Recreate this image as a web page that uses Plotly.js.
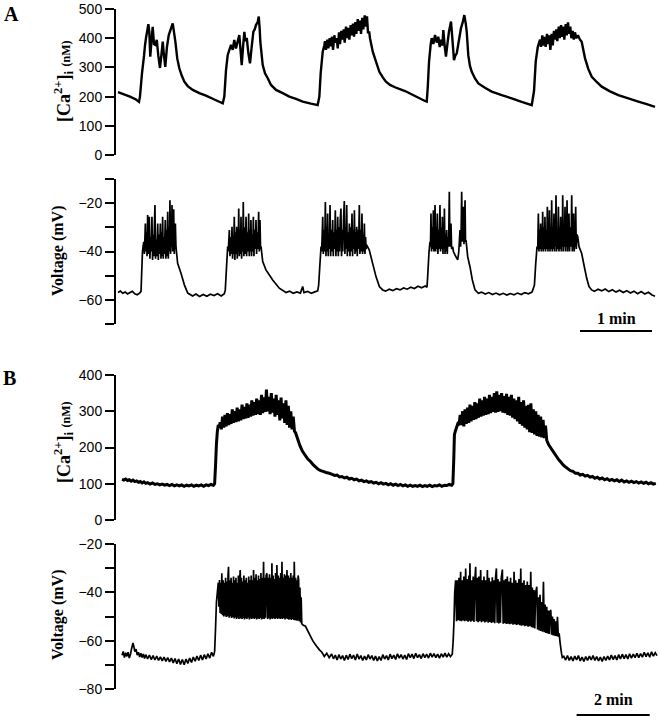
<!DOCTYPE html>
<html>
<head>
<meta charset="utf-8">
<script src="https://cdn.plot.ly/plotly-3.0.1.min.js"></script>
<style>
  html, body { margin: 0; padding: 0; background: #fff; }
  #chart { width: 660px; height: 720px; }
</style>
</head>
<body>
<div id="chart"></div>
<script>
// [time (s), value] samples

// panel A, [Ca2+]i (nM)
const caA = [
  [0,215],[5,208],[10,200],[15,190],[17.5,182],[18.3,200],[20,280],[21.7,340],[22.5,375],[23.3,400],
  [25.3,448],[26.1,420],[26.9,337],[28.1,400],[28.9,439],[30,380],[31.1,377],[32.3,394],[33.6,340],
  [35,298],[36.1,340],[37.3,388],[38.3,340],[39.4,302],[40.8,370],[42.3,411],[43.9,430],[45.6,451],
  [46.7,420],[47.8,388],[49.4,330],[51.1,297],[53.1,272],[55.3,251],[58.1,236],[62.3,223],[67.8,212],
  [73.3,203],[80.3,190],[87.3,177],[88.6,200],[90,290],[91.4,342],[92.8,360],[94.2,377],[95.6,360],
  [96.9,394],[98.3,365],[99.8,390],[101.1,411],[102.3,350],[103.1,308],[104.2,370],[105.3,422],
  [106.1,390],[107.3,401],[108.6,350],[110,314],[111.4,370],[112.8,422],[113.9,430],[115,445],
  [116.4,455],[117.3,474],[118.1,430],[118.6,388],[120.6,308],[122.5,280],[124.8,263],[127.5,240],
  [131.7,223],[137.3,212],[142.8,200],[148.3,192],[153.9,183],[160.8,176],[166.4,171],[167.8,200],
  [168.9,280],[170.6,354],[171.9,375],[172.5,390],[173.3,360],[174.4,395],[175.3,365],[176.4,400],
  [177.3,372],[178.3,405],[179.2,360],[180.3,410],[181.1,385],[182.3,400],[183.1,365],[184.2,420],
  [185,380],[186.1,425],[186.9,395],[188.1,430],[188.9,385],[190,440],[190.8,400],[191.9,435],
  [192.8,395],[193.9,445],[194.8,410],[195.8,450],[196.7,405],[197.8,455],[198.6,415],[199.8,465],
  [200.6,425],[201.7,460],[202.5,415],[203.6,470],[204.4,430],[205.6,478],[206.4,440],[207.5,475],
  [208.3,420],[209.4,420],[210,400],[212.3,354],[215,320],[217.8,285],[220.8,265],[223.3,251],
  [226.7,240],[230.8,232],[239.2,219],[247.5,202],[255.8,185],[257.3,183],[258.1,230],[259.2,320],
  [260.6,380],[261.4,400],[262.8,380],[264.2,411],[265.6,385],[266.9,405],[268.1,370],[269.2,395],
  [270.3,375],[271.1,428],[272.3,370],[273.3,337],[274.8,390],[275.8,422],[277.5,457],[278.6,400],
  [280,325],[281.1,340],[282.3,348],[283.6,380],[285.8,434],[287.3,455],[288.6,479],[289.8,450],
  [290.6,422],[291.9,342],[293.3,305],[294.8,285],[297.5,262],[300.3,245],[305.8,230],[311.4,217],
  [319.8,205],[328.1,194],[336.4,182],[344.8,171],[346.7,220],[348.1,320],[349.8,370],[351.7,395],
  [352.5,370],[353.6,410],[354.4,375],[355.6,405],[356.4,370],[357.5,415],[358.3,380],[359.4,410],
  [360.3,360],[361.4,415],[362.3,375],[363.3,425],[364.2,395],[365.3,430],[366.1,390],[367.3,440],
  [368.1,400],[369.2,445],[370,405],[371.1,440],[371.9,395],[373.1,448],[373.9,410],[375,454],
  [375.8,415],[376.9,440],[377.8,400],[378.9,425],[379.8,395],[380.8,420],[381.9,400],[383.3,410],
  [385,395],[386.4,388],[389.2,331],[391.9,295],[394.8,268],[398.9,250],[403.1,234],[410,218],
  [416.9,205],[425.3,194],[433.6,183],[440.6,174],[447.5,165]
];

// panel A, membrane voltage (mV)
const vA = [
  [0,-57],[2,-56.4],[4,-57.3],[6,-56.8],[8,-57.6],[10,-57],[12,-56.5],[14,-57.5],[16,-57.9],[18,-57.2],
  [19.2,-56.5],[19.8,-48],[20.4,-40],[21,-37.5],[21.5,-36],[22,-41],[22.8,-28.4],[23.3,-40],[23.8,-32],
  [24.2,-42],[24.7,-24.9],[25.2,-41],[25.7,-30],[26.1,-25.6],[26.6,-43],[27.1,-34],[27.6,-40],
  [28.3,-25.6],[28.8,-43.5],[29.3,-33],[29.8,-42],[30.3,-30],[30.8,-20.8],[31.3,-43],[31.8,-35],
  [32.3,-42],[33.1,-28.4],[33.6,-43.5],[34.1,-33],[34.6,-41],[35.3,-28.4],[35.8,-43],[36.3,-32],
  [36.7,-42],[37.2,-25.6],[37.7,-43],[38.2,-34],[38.7,-41],[39.4,-27],[39.9,-43],[40.4,-31],[40.9,-42],
  [41.4,-23.6],[41.9,-43],[42.4,-30],[42.8,-40],[43.3,-18.8],[43.8,-41],[44.3,-28],[44.6,-38],[45,-20.8],
  [45.5,-40],[45.9,-30],[46.4,-22.5],[46.9,-41],[47.3,-32],[47.8,-28.4],[48.3,-38],[49.7,-44.9],
  [52.5,-49],[55.3,-53.8],[58.1,-57.2],[62.2,-58.4],[65,-57.6],[68,-58.6],[71,-57.8],[74,-58.5],
  [77,-57.7],[80,-58.2],[83,-57.5],[86,-58.4],[88.6,-57.5],[89.4,-56],[90.6,-45],[91.4,-38],[91.9,-40],
  [92.3,-36],[92.8,-31.1],[93.3,-42],[93.8,-34],[94.4,-41],[95,-29.8],[95.5,-43],[96,-33],[96.4,-41],
  [96.9,-25.6],[97.4,-43.5],[97.9,-32],[98.4,-41],[98.9,-29.8],[99.4,-43],[99.9,-34],[100.2,-40],
  [100.6,-22.2],[101.1,-42],[101.6,-31],[102,-41],[102.5,-25.6],[103,-43],[103.5,-33],[103.9,-40],
  [104.4,-19.5],[104.9,-42],[105.4,-30],[106,-41],[106.7,-25.6],[107.2,-42],[107.7,-32],[108.3,-40],
  [108.9,-24.3],[109.4,-42],[109.9,-31],[110.3,-40],[110.8,-27],[111.3,-42],[111.8,-33],[112.3,-40],
  [112.8,-25.6],[113.3,-42],[113.8,-31],[114.4,-39],[115,-27],[115.5,-41],[116,-32],[116.6,-39],
  [117.2,-23.6],[117.7,-40],[118.3,-27],[118.8,-39],[119.2,-38],[120.6,-44.2],[123.3,-47.6],
  [128.9,-51.8],[134.4,-55.2],[140,-57],[143,-56.4],[146,-57.3],[149,-56.7],[152,-57.2],[153.9,-54.5],
  [155,-57],[158,-56.5],[161,-57.3],[164,-56.7],[166.4,-56.3],[167.2,-54],[168.3,-45],[169.2,-38],
  [169.7,-40],[170.1,-34],[170.6,-25.6],[171.1,-41],[171.6,-31],[172.2,-40],[172.8,-19.5],[173.3,-42],
  [173.8,-30],[174.2,-40],[174.7,-24.3],[175.2,-42],[175.7,-33],[176.2,-39],[176.7,-20.8],[177.2,-42],
  [177.8,-31],[178.3,-40],[178.9,-27],[179.4,-42],[179.9,-32],[180.5,-39],[181.1,-22.9],[181.6,-42],
  [182.1,-31],[182.6,-40],[183.1,-25.6],[183.6,-42],[184.1,-30],[184.6,-40],[185.2,-27],[185.8,-22.2],
  [186.3,-42],[186.8,-31],[187.3,-40],[188,-26],[188.6,-19.1],[189.1,-41],[189.6,-30],[190.1,-39],
  [190.6,-20.8],[191.1,-42],[191.6,-32],[192.2,-40],[192.8,-28.4],[193.3,-42],[193.8,-30],[194.4,-40],
  [195,-24.3],[195.5,-42],[196,-31],[196.5,-39],[197,-22.9],[197.5,-41],[198,-32],[198.4,-40],
  [198.9,-29.8],[199.4,-42],[199.9,-31],[200.5,-39],[201.1,-20.8],[201.6,-41],[202.1,-31],[202.7,-40],
  [203.3,-24.3],[203.8,-41],[204.3,-33],[204.8,-40],[205.3,-28.4],[205.8,-41],[206.3,-34],[206.8,-39],
  [207.2,-37.3],[209.4,-39.4],[212.2,-44.9],[215,-50.4],[217.8,-54.5],[220.6,-55.9],[223,-56.4],
  [226,-55.6],[229,-56.2],[232,-55.4],[235,-55.9],[238,-55.1],[241,-55.6],[244,-54.8],[247,-55.3],
  [250,-54.4],[253,-55],[256,-54.3],[257.5,-54.8],[258.1,-50],[259.2,-40],[260,-36],[260.4,-38],
  [260.8,-24.3],[261.3,-40],[261.8,-30],[262.3,-39],[262.8,-22.9],[263.3,-40],[263.7,-31],[264.2,-20.8],
  [264.7,-40],[265.2,-30],[265.6,-39],[266.1,-24.3],[266.6,-41],[267.1,-31],[267.7,-39],[268.3,-20.8],
  [268.8,-40],[269.3,-30],[269.8,-39],[270.3,-25.6],[270.8,-41],[271.3,-31],[271.6,-39],[272,-22.2],
  [272.5,-41],[273,-33],[273.4,-40],[273.9,-31.1],[274.4,-41],[274.9,-34],[275.5,-38],[276.1,-15.3],
  [276.6,-38],[277,-34],[277.5,-28.4],[278,-39],[278.9,-38],[279.5,-40],[280.8,-41.4],[282,-42.5],
  [283.1,-43.5],[284,-40],[285,-31.1],[285.5,-38],[286,-30],[286.4,-15.3],[286.9,-36],[287.3,-30],
  [287.8,-21.5],[288.3,-37],[288.8,-30],[289.2,-18.8],[289.6,-36],[290,-35.3],[291.4,-42.1],
  [293.3,-46.3],[295.3,-51.8],[297.5,-55.9],[300.3,-57.3],[303,-56.8],[306,-57.6],[309,-57],[312,-57.8],
  [315,-57.2],[318,-57.9],[321,-57.3],[324,-58],[327,-57.4],[330,-57.9],[333,-57.2],[336,-57.8],
  [339,-57],[342,-57.5],[345,-56.8],[347,-54],[348.1,-45],[349.2,-38],[349.8,-39],[350.3,-24.3],
  [350.8,-40],[351.3,-31],[351.7,-39],[352.2,-28.4],[352.7,-40],[353.2,-32],[353.5,-39],[353.9,-23.6],
  [354.4,-40],[354.9,-30],[355.4,-39],[355.8,-25.6],[356.3,-40],[356.8,-31],[357.3,-39],[357.8,-21.5],
  [358.3,-40],[358.7,-30],[359.1,-39],[359.5,-22.9],[360,-40],[360.5,-30],[361,-39],[361.4,-18.8],
  [361.9,-40],[362.4,-31],[362.8,-39],[363.3,-24.3],[363.8,-40],[364.2,-30],[364.6,-38],[365,-16.7],
  [365.5,-40],[366,-31],[366.5,-39],[367,-21.5],[367.5,-40],[368,-30],[368.4,-39],[368.9,-25.6],
  [369.4,-40],[369.8,-30],[370.2,-38],[370.6,-16.7],[371.1,-40],[371.6,-30],[372,-38],[372.5,-21.5],
  [373,-40],[373.4,-30],[373.8,-38],[374.2,-18.8],[374.7,-40],[375.1,-31],[375.4,-38],[375.8,-24.3],
  [376.3,-40],[376.9,-30],[377.5,-38],[378.1,-16.7],[378.6,-40],[379.1,-31],[379.4,-38],[379.7,-24.3],
  [380.2,-40],[380.7,-30],[381,-38],[381.4,-21.5],[381.9,-39],[382.5,-33],[383.1,-33.9],[384.2,-38],
  [386.4,-40.8],[388.6,-46.3],[390.6,-51.1],[392.5,-54.5],[394.7,-55.9],[397,-56.5],[400,-55.6],
  [403,-56.3],[406,-55.5],[409,-56.6],[412,-55.8],[415,-56.8],[418,-56],[421,-57],[424,-56.2],
  [427,-57.2],[430,-56.4],[433,-57.5],[436,-56.6],[439,-57.6],[442,-56.9],[445,-58],[447.5,-58.5]
];

// panel B, [Ca2+]i (nM)
const caB = [
  [0,112],[3,110],[6,113],[9,109],[12,111],[15,107],[18,110],[21,106],[24,108],[27,104],[30,106],
  [33,102],[36,105],[39,101],[42,103],[46,99],[50,102],[54,98],[58,100],[62,97],[66,99],[70,96],
  [74,98],[78,95],[82,98],[86,94],[90,97],[94,94],[98,97],[102,93],[106,96],[110,94],[114,97],
  [118,93],[122,96],[126,94],[130,97],[134,93],[138,97],[142,95],[146,98],[150,96],[152,100],
  [153.5,150],[155,210],[156.5,245],[158,262],[160,255],[161,270],[163,250],[165,285],[167,255],
  [169,290],[171,258],[173,295],[175,262],[177,292],[179,265],[181,305],[183,268],[185,300],[187,270],
  [189,310],[191,272],[193,305],[195,275],[197,318],[199,278],[201,312],[203,280],[205,322],[207,282],
  [209,318],[211,285],[213,330],[215,288],[217,325],[219,290],[221,335],[223,292],[225,330],[227,290],
  [229,345],[231,295],[233,338],[235,298],[237,360],[239,300],[241,340],[243,292],[245,350],[247,296],
  [249,335],[251,285],[253,345],[255,290],[257,330],[259,275],[261,338],[263,280],[265,322],[267,268],
  [269,330],[271,262],[273,315],[275,255],[277,300],[279,250],[281,285],[283,245],[285,240],[288,225],
  [292,205],[296,190],[300,180],[305,168],[309,162],[314,152],[318,146],[322,140],[326,136],[330,134],
  [335,131],[340,129],[345,126],[349,123],[353,124],[357,119],[361,120],[365,116],[369,118],[373,113],
  [377,115],[381,111],[385,113],[389,108],[393,110],[397,106],[401,108],[405,104],[409,106],[413,102],
  [417,104],[421,100],[425,103],[429,99],[433,101],[437,97],[441,100],[445,96],[449,99],[453,95],
  [457,98],[461,94],[465,97],[469,93],[473,96],[477,93],[481,95],[485,93],[489,96],[493,92],[497,95],
  [501,93],[505,96],[509,92],[513,95],[517,94],[521,97],[525,93],[529,96],[533,95],[537,98],[541,96],
  [543,100],[544.5,170],[545.5,235],[547,245],[549,255],[551,265],[553,262],[555,290],[557,262],
  [559,300],[561,258],[563,305],[565,265],[567,310],[569,268],[571,318],[573,272],[575,315],[577,276],
  [579,325],[581,278],[583,322],[585,282],[587,335],[589,285],[591,330],[593,288],[595,340],[597,290],
  [599,335],[601,292],[603,345],[605,295],[607,340],[609,298],[611,350],[613,296],[615,355],[617,298],
  [619,345],[621,300],[623,350],[625,296],[627,342],[629,295],[631,348],[633,290],[635,340],[637,288],
  [639,345],[641,282],[643,335],[645,278],[647,330],[649,272],[651,340],[653,265],[655,325],[657,260],
  [659,330],[661,255],[663,315],[665,250],[667,318],[669,242],[671,322],[673,240],[675,305],[677,236],
  [679,300],[681,232],[683,290],[685,230],[687,285],[689,228],[691,276],[693,226],[695,260],[697,220],
  [700,208],[704,198],[708,188],[712,178],[716,168],[720,160],[724,152],[728,146],[732,141],[736,136],
  [740,134],[744,129],[748,129],[752,124],[756,126],[760,121],[764,123],[768,118],[772,120],[776,115],
  [780,118],[784,113],[788,116],[792,111],[796,114],[800,109],[804,112],[808,108],[812,111],[816,106],
  [820,110],[824,105],[828,108],[832,104],[836,107],[840,103],[844,106],[848,102],[852,105],[856,101],
  [860,104],[864,100],[868,103],[872,99],[876,101]
];

// panel B, membrane voltage (mV)
const vB = [
  [0,-66],[2,-64.5],[4,-67],[6,-65],[8,-66.5],[10,-64.8],[12,-67.2],[14,-65.5],[16,-63],[18,-61],
  [19.5,-62.5],[21,-64.5],[23,-63.5],[25,-66],[27,-64.8],[29,-66.8],[31,-65.2],[33,-67],[35,-65.5],
  [37,-67.4],[39,-65.8],[42,-67.5],[45,-66],[48,-67.8],[51,-66.2],[54,-68],[57,-66.4],[60,-68.2],
  [63,-66.7],[66,-68.4],[69,-66.8],[72,-68.6],[75,-67],[78,-68.8],[81,-67.2],[84,-69.2],[87,-67.4],
  [90,-69.5],[93,-67.6],[96,-69.8],[99,-67.8],[102,-70],[105,-67.6],[108,-69.4],[111,-67.2],[114,-69],
  [117,-66.8],[120,-68.5],[123,-66.4],[126,-68.2],[129,-66],[132,-68],[135,-65.8],[138,-67.6],
  [141,-65.4],[144,-67.2],[147,-64.8],[150,-66.5],[152,-64.5],[153.5,-55],[155,-44],[156.5,-40],
  [158,-36],[159,-46],[160,-34.9],[161,-48.5],[162,-36],[163,-49],[163.8,-32.1],[165,-49.5],[166,-35],
  [167,-50],[168,-36],[169,-49.6],[170,-34],[171,-50.2],[172,-35.5],[173,-50],[174,-33],[174.8,-29.4],
  [176,-50.5],[177,-35],[178,-50],[179,-34],[180,-50.6],[181,-36],[182,-50.2],[183,-33.5],[184,-50.8],
  [185,-35],[186,-50.4],[187,-34],[188,-51],[189,-36],[190,-50.5],[191,-33],[192,-51],[193,-35],
  [194,-30.8],[195,-50.8],[196,-34],[197,-51],[198,-35.5],[199,-50.6],[200,-33],[201,-51.2],[202,-35],
  [203,-50.7],[204,-34],[205,-51],[206,-36],[207,-50.5],[208,-33.5],[209,-51.2],[210,-35],[211,-50.8],
  [212,-33],[213,-51],[214,-35],[215,-50.6],[215.9,-30.8],[217,-51],[218,-34],[219,-50.7],[220,-32.5],
  [221,-51.2],[222,-35],[223,-50.8],[224,-33],[225,-51],[226,-34.5],[227,-50.6],[228,-32],[229,-51.2],
  [230,-34],[231,-50.9],[232.3,-27.3],[233.5,-51],[234.5,-34],[235.5,-50.5],[236.5,-33],[237.8,-32.1],
  [239,-51],[240,-34],[241,-50.6],[242,-32.5],[243,-51.2],[244,-34],[245,-50.8],[246,-28],[247,-51],
  [248,-33],[249,-50.6],[250,-34.5],[251,-51],[252,-32],[253,-50.7],[254.2,-28.7],[255.5,-51],
  [256.5,-33],[257.5,-50.6],[258.5,-34],[259.5,-51],[260.5,-32],[261.5,-50.8],[262.5,-27.3],
  [263.5,-51],[264.5,-34],[265.5,-50.6],[266.5,-32.5],[267.5,-51.2],[268.5,-33],[269.5,-50.8],
  [270.7,-30.8],[272,-51],[273,-33],[274,-51.3],[275,-34],[276,-51],[277,-32],[278,-51.4],[279,-34],
  [280,-51],[281,-33],[282,-51.4],[282.7,-27.3],[284,-51.5],[285,-34],[286,-51.6],[287,-35],
  [288,-51.8],[289,-33],[289.9,-34.9],[291,-52],[292,-38],[293,-52.5],[294,-42],[295,-53],[297,-53.5],
  [301,-54],[305,-56],[309,-58],[313,-60],[317,-61.5],[320,-62.5],[324,-63.8],[328,-64.8],[332,-66.5],
  [336,-65.2],[340,-67],[344,-65.5],[347,-67.5],[350,-66],[353,-68],[356,-65.8],[359,-67.6],[362,-66.2],
  [365,-68.2],[368,-66],[371,-67.8],[374,-65.6],[377,-67.4],[380,-66],[383,-68],[386,-65.5],[389,-67.6],
  [392,-66.2],[395,-68.2],[398,-66.4],[401,-68],[404,-65.8],[407,-67.6],[410,-66.2],[413,-68.2],
  [416,-66.4],[419,-68.4],[422,-66.6],[425,-68.2],[428,-65.8],[431,-67.6],[434,-66.2],[437,-68],
  [440,-65.6],[443,-67.4],[446,-66],[449,-67.8],[452,-65.4],[455,-67.2],[458,-65.8],[461,-67.6],
  [464,-66],[467,-67.8],[470,-65.4],[473,-67],[476,-65.6],[479,-67.4],[482,-65.2],[485,-67],[488,-65.8],
  [491,-67.4],[494,-65.4],[497,-67],[500,-65.6],[503,-67.2],[506,-65.2],[509,-66.8],[512,-65.4],
  [515,-67],[518,-65.6],[521,-67.2],[524,-65.4],[527,-66.8],[530,-65.2],[533,-66.8],[536,-65.4],
  [539,-66.6],[542,-65.6],[543.5,-60],[544.8,-52],[546,-40],[547.5,-35],[549,-52],[550.2,-35],
  [551.5,-51.5],[553,-34],[554.3,-51.8],[555.7,-31.5],[557,-52],[558.3,-35],[559.6,-51.6],[561,-33.5],
  [562.3,-52],[564,-30.1],[565.3,-51.8],[566.6,-34.5],[568,-52.2],[569.3,-33],[570.2,-51.8],[571,-28],
  [572.3,-52.2],[573.6,-35],[575,-51.8],[576.3,-33.5],[577.6,-52.3],[579,-35],[580.4,-29.4],[581.7,-52],
  [583,-34],[584.4,-52.4],[585.7,-33.5],[587,-52],[588.6,-30.8],[590,-52.4],[591.3,-35],[592.7,-52],
  [594,-33.5],[595.3,-52.5],[596.7,-35],[598,-52.2],[599.6,-30.8],[601,-52.6],[602.3,-34],[603.7,-52.3],
  [605,-35.5],[606.3,-52.7],[607.7,-33.8],[609,-52.4],[610.4,-35],[611.7,-52.8],[613,-34],[614.4,-30.1],
  [615.7,-52.6],[617,-34.5],[618.4,-52.9],[619.7,-35.5],[621,-52.6],[622.4,-34],[624.2,-30.6],[625.5,-53],
  [626.8,-35],[628.2,-52.8],[629.5,-34.5],[630.9,-53.1],[632.4,-33.5],[633.7,-53],[635,-35.5],
  [636.4,-53.2],[637.7,-34],[639,-53],[640.4,-36],[641.8,-53.4],[643.4,-31.5],[644.7,-53.2],[646,-35],
  [647.4,-53.5],[648.7,-36],[650,-53.3],[651.4,-34.5],[652.8,-53.6],[654.4,-30.1],[655.7,-53.8],
  [657,-36],[658.4,-53.6],[659.7,-35],[661,-54],[662.4,-37],[663.8,-53.8],[665.1,-35.5],[666.4,-54.2],
  [667.8,-37],[669.2,-54],[670.8,-31.5],[672.1,-54.4],[673.4,-38],[674.8,-54.6],[676.1,-39],[677.4,-55],
  [678.8,-40],[680.7,-37.7],[682,-55.4],[683.4,-42],[684.7,-55.8],[686,-41],[687.4,-56],[688.7,-44],
  [690,-56.3],[691.6,-35.6],[693,-56.5],[694.3,-45],[695.7,-56.8],[697,-46],[698.4,-57],[699.8,-47.5],
  [701.1,-57.2],[702.4,-48],[703.7,-47.3],[705,-57.5],[706.4,-50],[707.7,-57.8],[709,-51],[710.4,-58],
  [711.8,-52],[713.2,-58.2],[714.6,-50.1],[716,-58.4],[717.4,-57],[719,-61],[721.2,-65.2],[722.5,-67],
  [725,-66.5],[728,-68],[731,-66.2],[734,-68.2],[737,-66.6],[740,-68.4],[743,-66.4],[746,-68],
  [749,-66.2],[752,-68.4],[755,-66.8],[758,-68.6],[761,-66.6],[764,-68.2],[767,-66.4],[770,-68],
  [773,-66.2],[776,-68.2],[779,-66.6],[782,-68.4],[785,-66.8],[788,-68.6],[791,-66.6],[794,-68.2],
  [797,-66.4],[800,-68],[803,-66],[806,-67.8],[809,-66.2],[812,-68],[815,-65.8],[818,-67.6],[821,-65.6],
  [824,-67.4],[827,-65.8],[830,-67.6],[833,-65.4],[836,-67.2],[839,-65.6],[842,-67],[845,-65.2],
  [848,-67],[851,-65.4],[854,-66.8],[857,-64.8],[860,-66.6],[863,-65],[866,-66.8],[869,-64.6],
  [872,-66.4],[875,-65],[878,-66.2]
];

// axis ticks (labelled and unlabelled)
const caATicks = [0, 100, 200, 300, 400, 500];
const vATicks = [-60, -40, -20];
const vAMinor = [-70, -50, -30, -10];
const caBTicks = [0, 100, 200, 300, 400];
const vBTicks = [-80, -60, -40, -20];
const vBMinor = [-70, -50, -30];

// scale bars (seconds)
const scaleA = 60;
const scaleB = 120;

const W = 660, H = 720;
const px = v => v / W;
const py = v => 1 - v / H;

function trace(pts, xa, ya, w) {
  return {
    x: pts.map(p => p[0]),
    y: pts.map(p => p[1]),
    xaxis: xa, yaxis: ya,
    type: "scatter", mode: "lines",
    line: { color: "#000", width: w, simplify: false },
    hoverinfo: "skip"
  };
}

const data = [
  trace(caA, "x", "y", 2.4),
  trace(vA, "x", "y2", 1.7),
  trace(caB, "x2", "y3", 3),
  trace(vB, "x2", "y4", 1.7)
];

const tickFont = { family: "Liberation Sans, Arial, sans-serif", size: 14, color: "#000" };
function yAxis(dom, range, vals, minor, anchor) {
  const ax = {
    domain: dom, range: range, anchor: anchor,
    showline: true, linecolor: "#000", linewidth: 2,
    ticks: "outside", ticklen: 9, tickwidth: 2, tickcolor: "#000",
    tickmode: "array", tickvals: vals, tickfont: tickFont,
    showgrid: false, zeroline: false
  };
  if (minor) {
    ax.minor = { tickmode: "array", tickvals: minor, ticks: "outside",
                 ticklen: 9, tickwidth: 2, tickcolor: "#000", showgrid: false };
  }
  return ax;
}
const xAxis = (range) => ({
  domain: [px(116), px(658)], range: range, visible: false, showgrid: false, zeroline: false
});

const serif = "Liberation Serif, Times New Roman, serif";
const caTitle = '<b>[Ca<sup>2+</sup>]<sub>i</sub> <span style="font-size:12px">(nM)</span></b>';
function label(text, x, y, size, angle) {
  return {
    text: text, xref: "paper", yref: "paper", x: x, y: y,
    xanchor: "center", yanchor: "middle", showarrow: false,
    textangle: angle || 0,
    font: { family: serif, size: size, color: "#000" }
  };
}

const layout = {
  width: W, height: H,
  margin: { l: 0, r: 0, t: 0, b: 0 },
  paper_bgcolor: "#fff", plot_bgcolor: "rgba(0,0,0,0)",
  showlegend: false,
  xaxis: xAxis([-1.67, 450]),
  xaxis2: xAxis([-9.85, 879.6]),
  yaxis: yAxis([py(155), py(9)], [0, 500], caATicks, null, "x"),
  yaxis2: yAxis([py(324), py(179)], [-70, -10], vATicks, vAMinor, "x"),
  yaxis3: yAxis([py(520), py(375)], [0, 400], caBTicks, null, "x2"),
  yaxis4: yAxis([py(689), py(544)], [-80, -20], vBTicks, vBMinor, "x2"),
  annotations: [
    label("<b>A</b>", px(11.5), py(13.5), 20),
    label("<b>B</b>", px(9), py(377.5), 20),
    label(caTitle, px(63), py(82), 18, -90),
    label("<b>Voltage (mV)</b>", px(58), py(251), 16, -90),
    label(caTitle, px(63), py(443), 18, -90),
    label("<b>Voltage (mV)</b>", px(58), py(615), 16, -90),
    { text: "<b>1 min</b>", xref: "x", yref: "paper", x: 385 + scaleA / 2, y: py(318.5),
      xanchor: "center", yanchor: "middle", showarrow: false,
      font: { family: serif, size: 16, color: "#000" } },
    { text: "<b>2 min</b>", xref: "x2", yref: "paper", x: 746 + scaleB / 2, y: py(699),
      xanchor: "center", yanchor: "middle", showarrow: false,
      font: { family: serif, size: 16, color: "#000" } }
  ],
  shapes: [
    { type: "line", xref: "x", yref: "paper", x0: 385, x1: 385 + scaleA, y0: py(331), y1: py(331),
      line: { color: "#000", width: 2 } },
    { type: "line", xref: "x2", yref: "paper", x0: 746, x1: 746 + scaleB, y0: py(715), y1: py(715),
      line: { color: "#000", width: 2 } }
  ]
};

Plotly.newPlot("chart", data, layout, { staticPlot: true, displayModeBar: false });
</script>
</body>
</html>
